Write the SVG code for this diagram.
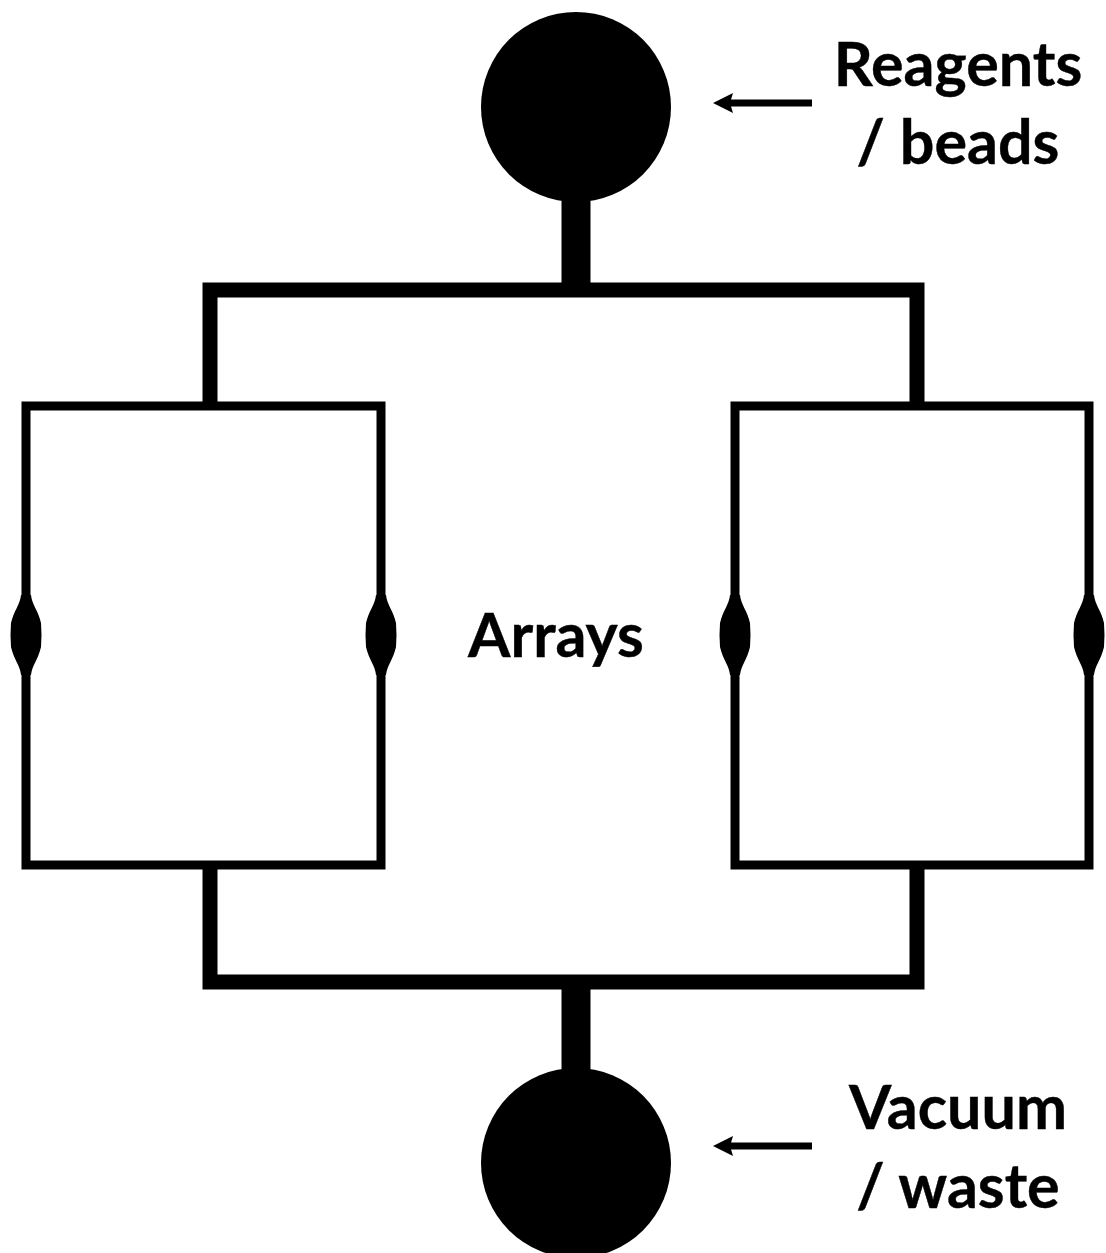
<svg xmlns="http://www.w3.org/2000/svg" width="1106" height="1253" viewBox="0 0 1106 1253">
<defs><path id="bulge" d="M-5,-40 C-6,-30 -12,-25 -15,-12 Q-16,0 -15,12 C-12,25 -6,30 -5,40 L5,40 C6,30 12,25 15,12 Q16,0 15,-12 C12,-25 6,-30 5,-40 Z" fill="#000"/>
<marker id="arrow" markerUnits="userSpaceOnUse" markerWidth="22" markerHeight="22" refX="5" refY="11" orient="auto"><path d="M0,1 L3,11 L0,21 L20,11 Z" fill="#000"/></marker></defs>
<style>.t{font-family:Lato,"Open Sans","Liberation Sans",sans-serif;font-weight:700;font-size:61px;fill:#000;stroke:#000;stroke-width:0.4px;text-anchor:middle}.w{fill:none;stroke:#000;stroke-linejoin:miter}</style>
<rect width="1106" height="1253" fill="#fff"/>
<g id="connectors">
<path class="w" stroke-width="15" d="M210,405 V290 H917 V405 M210,865 V982 H917 V865"/>
<path class="w" stroke-width="29" d="M576,200 V290 M576,982 V1075"/>
<path class="w" stroke-width="7" d="M812,103 H728" marker-end="url(#arrow)"/>
<path class="w" stroke-width="7" d="M812,1146 H728" marker-end="url(#arrow)"/>
</g>
<g id="reagents-port"><circle cx="576" cy="107" r="95" fill="#000"/></g>
<g id="waste-port"><circle cx="576" cy="1163" r="95" fill="#000"/></g>
<g id="array-left"><rect class="w" stroke-width="9" x="26" y="406" width="355" height="459"/><use href="#bulge" x="26" y="635"/><use href="#bulge" x="381" y="635"/></g>
<g id="array-right"><rect class="w" stroke-width="9" x="735" y="406" width="354" height="459"/><use href="#bulge" x="735" y="635"/><use href="#bulge" x="1089" y="635"/></g>
<g id="labels">
<text class="t" x="958" y="86">Reagents</text><text class="t" x="958" y="164">/ beads</text>
<text class="t" x="556" y="657">Arrays</text>
<text class="t" x="958" y="1129">Vacuum</text><text class="t" x="958" y="1208">/ waste</text>
</g>
</svg>
